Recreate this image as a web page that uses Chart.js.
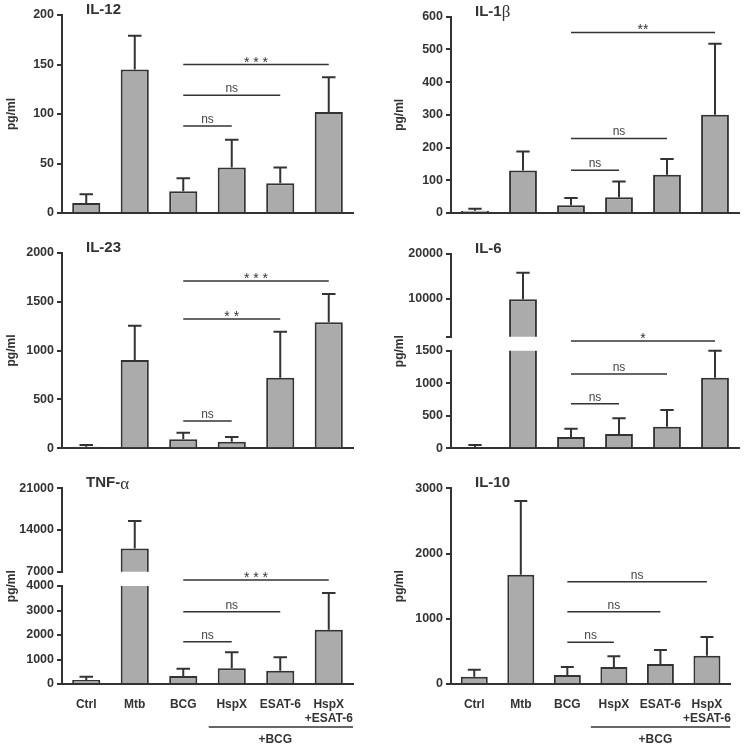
<!DOCTYPE html>
<html><head><meta charset="utf-8">
<script src="https://cdn.jsdelivr.net/npm/chart.js@4/dist/chart.umd.min.js"></script>
<style>
html,body{margin:0;padding:0;background:#fff;}
#wrap{position:relative;width:746px;height:749px;overflow:hidden;background:#fff;}
canvas{position:absolute;}
</style></head><body><div id="wrap"></div>
<script>
const FONT = '"Liberation Sans", Arial, Helvetica, sans-serif';
const SERIF = '"Liberation Serif", "DejaVu Serif", serif';

// ---- data ----
const categories = ['Ctrl', 'Mtb', 'BCG', 'HspX', 'ESAT-6', ['HspX', '+ESAT-6']];

const il12Mean = [10, 145, 22, 46, 30, 102];
const il12Err  = [9, 34, 13, 28, 16, 35];
const il1bMean = [7, 130, 24, 48, 117, 300];
const il1bErr  = [6, 58, 22, 48, 48, 217];
const il23Mean = [17, 903, 92, 68, 722, 1288];
const il23Err  = [17, 351, 68, 48, 470, 289];
const il6Mean  = [15, 9900, 174, 220, 333, 1085];
const il6Err   = [36, 5900, 128, 241, 256, 415];
const tnfMean  = [163, 10900, 327, 640, 544, 2218];
const tnfErr   = [137, 4600, 299, 653, 544, 1496];
const il10Mean = [112, 1676, 138, 261, 307, 434];
const il10Err  = [108, 1129, 123, 163, 214, 286];

const il12Ticks    = [0, 50, 100, 150, 200];
const il1bTicks    = [0, 100, 200, 300, 400, 500, 600];
const il23Ticks    = [0, 500, 1000, 1500, 2000];
const il6TicksHigh = [1500, 10000, 20000];
const il6TicksLow  = [0, 500, 1000, 1500];
const tnfTicksHigh = [7000, 14000, 21000];
const tnfTicksLow  = [0, 1000, 2000, 3000, 4000];
const il10Ticks    = [0, 1000, 2000, 3000];

// significance: [from index, to index, level value, label]
const il12Sig = [[2, 5, 150, '* * *'], [2, 4, 119, 'ns'], [2, 3, 88, 'ns']];
const il1bSig = [[2, 5, 552, '**'], [2, 4, 228, 'ns'], [2, 3, 131, 'ns']];
const il23Sig = [[2, 5, 1710, '* * *'], [2, 4, 1322, '* *'], [2, 3, 279, 'ns']];
const il6Sig  = [[2, 5, 1650, '*'], [2, 4, 1142, 'ns'], [2, 3, 686, 'ns']];
const tnfSig  = [[2, 5, 4250, '* * *'], [2, 4, 2952, 'ns'], [2, 3, 1728, 'ns']];
const il10Sig = [[2, 5, 1569, 'ns'], [2, 4, 1109, 'ns'], [2, 3, 639, 'ns']];

const groupLabel = '+BCG';
const groupStart = 3;

// ---- layout ----
const panels = [
  {title: [['IL-12', 0]], col: 0, row: 0, mean: il12Mean, err: il12Err, sig: il12Sig,
   segs: [{ticks: il12Ticks, top: 15, bottom: 213}]},
  {title: [['IL-1', 0], ['\u03B2', 1]], col: 1, row: 0, mean: il1bMean, err: il1bErr, sig: il1bSig,
   segs: [{ticks: il1bTicks, top: 16.7, bottom: 213}]},
  {title: [['IL-23', 0]], col: 0, row: 1, mean: il23Mean, err: il23Err, sig: il23Sig,
   segs: [{ticks: il23Ticks, top: 22.7, bottom: 218.3}]},
  {title: [['IL-6', 0]], col: 1, row: 1, mean: il6Mean, err: il6Err, sig: il6Sig,
   segs: [{ticks: il6TicksHigh, top: 24, bottom: 106.7, hide: [1500]},
          {ticks: il6TicksLow, top: 120.7, bottom: 218.3}]},
  {title: [['TNF-', 0], ['\u03B1', 1]], col: 0, row: 2, mean: tnfMean, err: tnfErr, sig: tnfSig,
   segs: [{ticks: tnfTicksHigh, top: 28.3, bottom: 111.7},
          {ticks: tnfTicksLow, top: 126, bottom: 224}]},
  {title: [['IL-10', 0]], col: 1, row: 2, mean: il10Mean, err: il10Err, sig: il10Sig,
   segs: [{ticks: il10Ticks, top: 28.3, bottom: 224}]},
];
const colX = [0, 373], colW = 373;
const rowY = [0, 230, 460], rowH = [230, 230, 289];
const chartL = [62, 78], chartR = [353, 366];
const ylabX = [11.5, 27];

const INK = '#333';

const errPlugin = {
  id: 'errbars',
  afterDatasetsDraw(chart, args, o) {
    const {ctx} = chart, y = chart.scales.y;
    const meta = chart.getDatasetMeta(0);
    ctx.save();
    ctx.strokeStyle = INK; ctx.lineWidth = 2; ctx.lineCap = 'butt';
    o.mean.forEach((m, i) => {
      const e = o.err[i];
      if (m >= y.max || m + e <= y.min) return;
      const el = meta.data[i];
      const cx = el.x, hw = el.width * 0.24;
      const y0 = y.getPixelForValue(m), y1 = y.getPixelForValue(m + e);
      ctx.beginPath();
      ctx.moveTo(cx, y0); ctx.lineTo(cx, y1);
      ctx.moveTo(cx - hw, y1); ctx.lineTo(cx + hw, y1);
      ctx.stroke();
    });
    ctx.restore();
  }
};

const annoPlugin = {
  id: 'anno',
  afterDraw(chart, args, o) {
    const {ctx} = chart, x = chart.scales.x, y = chart.scales.y, a = chart.chartArea;
    ctx.save();
    if (o.sig) {
      o.sig.forEach(([i, j, v, lab]) => {
        const xa = x.getPixelForValue(i), xb = x.getPixelForValue(j), yy = y.getPixelForValue(v);
        ctx.strokeStyle = INK; ctx.lineWidth = 1.5;
        ctx.beginPath(); ctx.moveTo(xa, yy); ctx.lineTo(xb, yy); ctx.stroke();
        const star = lab.indexOf('*') >= 0;
        ctx.fillStyle = star ? INK : '#444';
        ctx.font = (star ? '14px ' : '12px ') + FONT;
        ctx.textAlign = 'center'; ctx.textBaseline = 'alphabetic';
        ctx.fillText(lab, (xa + xb) / 2, star ? yy + 2 : yy - 3);
      });
    }
    if (o.group) {
      const xs = x.getPixelForValue(groupStart) - 23, xe = a.right;
      ctx.strokeStyle = INK; ctx.lineWidth = 1.5;
      ctx.beginPath(); ctx.moveTo(xs, o.group.lineY); ctx.lineTo(xe, o.group.lineY); ctx.stroke();
      ctx.fillStyle = INK; ctx.font = 'bold 12px ' + FONT;
      ctx.textAlign = 'center'; ctx.textBaseline = 'middle';
      ctx.fillText(groupLabel, x.getPixelForValue(4) - 5, o.group.textY);
    }
    if (o.title) {
      let tx = a.left + 24;
      ctx.textBaseline = 'middle'; ctx.textAlign = 'left'; ctx.fillStyle = INK;
      o.title.parts.forEach(([t, s]) => {
        ctx.font = s ? '17px ' + SERIF : 'bold 15px ' + FONT;
        ctx.fillText(t, tx, o.title.y + (s ? 1 : 0));
        tx += ctx.measureText(t).width;
      });
      ctx.save();
      ctx.translate(o.title.lx, o.title.ly);
      ctx.rotate(-Math.PI / 2);
      ctx.font = 'bold 12px ' + FONT; ctx.textAlign = 'center'; ctx.textBaseline = 'middle';
      ctx.fillText('pg/ml', 0, 0);
      ctx.restore();
    }
    ctx.restore();
  }
};

const wrap = document.getElementById('wrap');
panels.forEach(p => {
  const W = colW, H = rowH[p.row];
  const L = chartL[p.col], R = chartR[p.col];
  const first = p.segs[0], last = p.segs[p.segs.length - 1];
  p.segs.forEach((s, si) => {
    const isLast = si === p.segs.length - 1;
    const isFirst = si === 0;
    const showLabels = isLast && p.row === 2;
    const xh = showLabels ? H - s.bottom : 0;
    const cv = document.createElement('canvas');
    cv.width = W; cv.height = H;
    cv.style.left = colX[p.col] + 'px'; cv.style.top = rowY[p.row] + 'px';
    wrap.appendChild(cv);
    const ticks = s.ticks, hide = s.hide || [];
    const annoOpts = {};
    if (isLast) {
      annoOpts.sig = p.sig;
      if (p.row === 2) annoOpts.group = {lineY: 267, textY: 280};
    }
    if (isFirst) {
      annoOpts.title = {parts: p.title, y: first.top - 5, lx: ylabX[p.col], ly: (first.top + last.bottom) / 2};
    }
    new Chart(cv, {
      type: 'bar',
      data: {labels: categories, datasets: [{
        data: p.mean, backgroundColor: '#ababab', borderColor: INK, borderWidth: 2,
        borderSkipped: 'start', categoryPercentage: 1, barPercentage: 0.58, clip: 0
      }]},
      options: {
        responsive: false, animation: false, devicePixelRatio: 1,
        layout: {padding: {left: 0, right: W - R, top: s.top, bottom: H - s.bottom - xh}},
        plugins: {legend: {display: false}, tooltip: {enabled: false},
                  errbars: {mean: p.mean, err: p.err}, anno: annoOpts},
        scales: {
          x: {
            display: isLast,
            grid: {display: false, drawTicks: false},
            border: {display: true, color: INK, width: 2},
            ticks: {display: showLabels, color: INK, autoSkip: false, maxRotation: 0,
                    padding: 14.4, font: {family: FONT, size: 12, weight: 'bold', lineHeight: 1.1}},
            afterFit: sc => { sc.height = xh; }
          },
          y: {
            min: ticks[0], max: ticks[ticks.length - 1],
            afterBuildTicks: sc => { sc.ticks = ticks.map(v => ({value: v})); },
            grid: {display: true, drawOnChartArea: false, drawTicks: true, tickLength: 5, color: INK, lineWidth: 2},
            border: {display: true, color: INK, width: 2},
            ticks: {color: INK, padding: 3, font: {family: FONT, size: 12.5, weight: 'bold'},
                    callback: v => hide.includes(v) ? '' : String(v)},
            afterFit: sc => { sc.width = L; }
          }
        }
      },
      plugins: [errPlugin, annoPlugin]
    });
  });
});
</script></body></html>
